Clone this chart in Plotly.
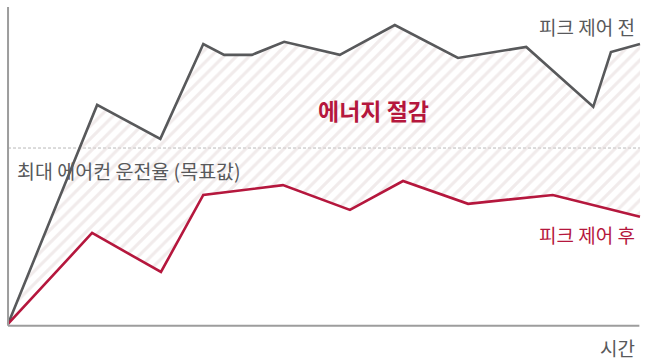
import plotly.graph_objects as go

# Time axis (relative units, 0-100) and air-conditioner operating rate (%)
before_t = [0, 14.1, 24.1, 30.9, 34.2, 38.6, 43.7, 52.5, 61.2, 71.2, 82.0, 92.6, 95.4, 100]
before_rate = [0, 69.1, 58.4, 88.3, 84.9, 84.9, 89.0, 84.9, 94.3, 83.9, 87.4, 68.5, 85.8, 88.3]

after_t = [0, 13.3, 24.2, 30.9, 43.5, 54.1, 62.5, 72.8, 86.2, 100]
after_rate = [0, 28.7, 16.4, 40.7, 43.8, 36.0, 45.1, 37.9, 40.7, 33.8]

target_rate = 55.5

GRAY = "#58595b"
RED = "#b5173d"
AXIS = "#9d9d9d"
FONT = "Noto Sans CJK KR"

fig = go.Figure()

fig.add_trace(go.Scatter(
    x=before_t, y=before_rate, mode="lines",
    line=dict(color=GRAY, width=2.6), hoverinfo="skip", showlegend=False,
))
fig.add_trace(go.Scatter(
    x=after_t, y=after_rate, mode="lines",
    line=dict(color=RED, width=2.6), hoverinfo="skip", showlegend=False,
    fill="tonexty", fillcolor="rgba(0,0,0,0)",
    fillpattern=dict(shape="/", fgcolor="#e3d7d8", bgcolor="rgba(255,255,255,0)",
                     size=9, solidity=0.35),
))

# Target operating-rate reference line
fig.add_shape(type="line", x0=0, x1=100, y0=target_rate, y1=target_rate,
              line=dict(color="#b8b8b8", width=1, dash="3px,2px"), layer="below")

# Axes drawn as plain lines
fig.add_shape(type="line", x0=0, x1=0, y0=-0.6, y1=100,
              line=dict(color=AXIS, width=2), layer="above")
fig.add_shape(type="line", x0=0, x1=99.9, y0=-0.6, y1=-0.6,
              line=dict(color=AXIS, width=2), layer="above")

anns = [
    dict(x=99.5, y=93.7, text="피크 제어 전", xanchor="right", font=dict(color=GRAY, size=19)),
    dict(x=99.5, y=28.1, text="피크 제어 후", xanchor="right", font=dict(color=RED, size=19)),
    dict(x=99.5, y=-7.3, text="시간", xanchor="right", font=dict(color=GRAY, size=19)),
    dict(x=57.8, y=67.5, text="<b>에너지 절감</b>", xanchor="center", font=dict(color=RED, size=23)),
    dict(x=1.1, y=48.5, text="최대 에어컨 운전율 (목표값)", xanchor="left", font=dict(color=GRAY, size=19.5)),
]
for a in anns:
    a.update(xref="x", yref="y", yanchor="middle", showarrow=False)
    a["font"]["family"] = FONT
fig.update_layout(annotations=anns)

fig.update_layout(
    width=652, height=362,
    margin=dict(l=0, r=0, t=0, b=0),
    paper_bgcolor="white", plot_bgcolor="white",
    xaxis=dict(range=[-1.27, 101.9], visible=False, fixedrange=True),
    yaxis=dict(range=[-12.0, 102.2], visible=False, fixedrange=True),
    font=dict(family=FONT),
)

fig.write_html("out.html")
